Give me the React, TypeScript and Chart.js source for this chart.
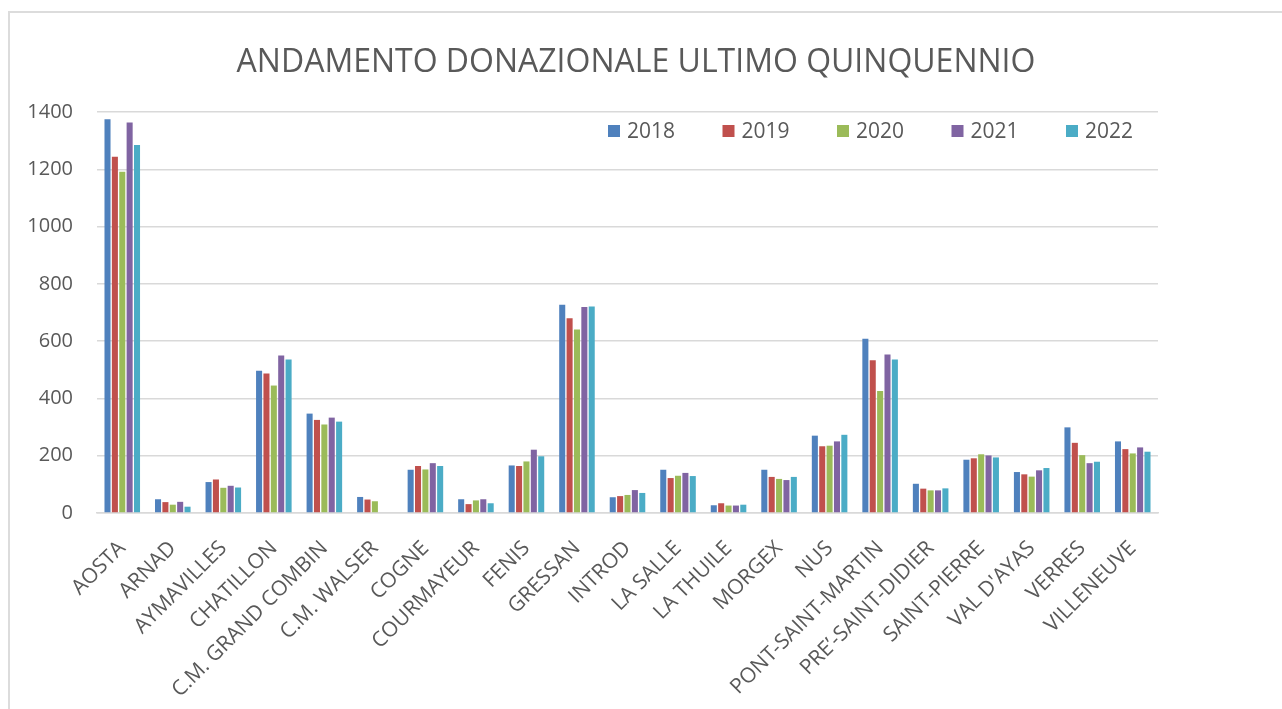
import React, { useEffect, useRef } from 'react';
import { Chart, registerables } from 'chart.js';

Chart.register(...registerables);

const TITLE = 'ANDAMENTO DONAZIONALE ULTIMO QUINQUENNIO';

const categories = [
  'AOSTA', 'ARNAD', 'AYMAVILLES', 'CHATILLON', 'C.M. GRAND COMBIN', 'C.M. WALSER',
  'COGNE', 'COURMAYEUR', 'FENIS', 'GRESSAN', 'INTROD', 'LA SALLE', 'LA THUILE',
  'MORGEX', 'NUS', 'PONT-SAINT-MARTIN', 'PRE’-SAINT-DIDIER', 'SAINT-PIERRE',
  "VAL D'AYAS", 'VERRES', 'VILLENEUVE',
];

const years = ['2018', '2019', '2020', '2021', '2022'];

const values2018 = [1375, 48, 108, 497, 347, 56, 151, 48, 166, 727, 55, 151, 27, 151, 270, 608, 102, 186, 143, 299, 250];
const values2019 = [1244, 38, 117, 487, 325, 47, 164, 31, 164, 680, 59, 122, 34, 126, 233, 533, 85, 191, 135, 245, 223];
const values2020 = [1191, 29, 88, 445, 309, 41, 152, 44, 180, 641, 63, 130, 26, 119, 235, 426, 79, 205, 127, 202, 208];
const values2021 = [1363, 39, 95, 550, 333, null, 174, 48, 221, 719, 80, 140, 26, 115, 250, 553, 79, 201, 149, 174, 229];
const values2022 = [1285, 22, 89, 536, 319, null, 164, 34, 198, 721, 70, 129, 29, 126, 273, 536, 86, 194, 157, 179, 214];

const yMin = 0;
const yMax = 1400;
const yStep = 200;

const seriesColors = ['#4F81BD', '#C0504D', '#9BBB59', '#8064A2', '#4BACC6'];
const TEXT_COLOR = '#595959';
const GRID_COLOR = '#d9d9d9';
const FONT = "'Open Sans', 'DejaVu Sans', sans-serif";

const titlePlugin = {
  id: 'excelTitle',
  afterDraw(chart: any) {
    const ctx = chart.ctx;
    ctx.save();
    ctx.font = `400 32px ${FONT}`;
    ctx.fillStyle = TEXT_COLOR;
    ctx.textAlign = 'center';
    ctx.textBaseline = 'middle';
    ctx.fillText(TITLE, 636, 63);
    ctx.restore();
  },
};

const legendPlugin = {
  id: 'insideLegend',
  afterDraw(chart: any) {
    const { ctx, chartArea } = chart;
    ctx.save();
    chart.data.datasets.forEach((ds: any, i: number) => {
      const x = chartArea.right - 550 + i * 114.5;
      const y = chartArea.top + 19;
      ctx.fillStyle = ds.backgroundColor;
      ctx.fillRect(x, y - 6, 12, 12);
      ctx.fillStyle = TEXT_COLOR;
      ctx.font = `21px ${FONT}`;
      ctx.textAlign = 'left';
      ctx.textBaseline = 'middle';
      ctx.fillText(ds.label, x + 19, y + 1);
    });
    ctx.restore();
  },
};

export default function App() {
  const canvasRef = useRef<HTMLCanvasElement | null>(null);

  useEffect(() => {
    if (!canvasRef.current) return;
    const seriesValues = [values2018, values2019, values2020, values2021, values2022];
    const chart = new Chart(canvasRef.current, {
      type: 'bar',
      data: {
        labels: categories,
        datasets: years.map((y, i) => ({
          label: y,
          data: seriesValues[i],
          backgroundColor: seriesColors[i],
          borderWidth: 0,
          categoryPercentage: 0.73,
          barPercentage: 0.82,
        })),
      },
      options: {
        responsive: false,
        animation: false,
        layout: { padding: { left: 0, right: 124, top: 112, bottom: 0 } },
        plugins: {
          legend: { display: false },
          title: { display: false },
          tooltip: { enabled: false },
        },
        scales: {
          x: {
            grid: { display: false },
            border: { color: GRID_COLOR, width: 1.5 },
            ticks: {
              color: TEXT_COLOR,
              font: { family: FONT, size: 21 },
              minRotation: 45,
              maxRotation: 45,
              autoSkip: false,
              padding: 15,
            },
            afterFit: (s: any) => {
              s.height = 196;
            },
          },
          y: {
            min: yMin,
            max: yMax,
            ticks: {
              stepSize: yStep,
              color: TEXT_COLOR,
              font: { family: FONT, size: 20 },
              padding: 24,
              callback: (v: any) => String(v),
            },
            grid: { color: GRID_COLOR, lineWidth: 1.5, drawTicks: false },
            border: { display: false },
            afterFit: (s: any) => {
              s.width = 97;
            },
          },
        },
      },
      plugins: [titlePlugin, legendPlugin],
    });
    return () => chart.destroy();
  }, []);

  return (
    <div style={{ position: 'fixed', left: 0, top: 0, width: 1282, height: 709, overflow: 'hidden', background: '#fff' }}>
      <div
        style={{
          position: 'absolute',
          left: 8,
          top: 11,
          width: 3000,
          height: 3000,
          borderLeft: '2px solid #dcdcdc',
          borderTop: '2px solid #dcdcdc',
        }}
      />
      <canvas ref={canvasRef} width={1282} height={709} style={{ position: 'absolute', left: 0, top: 0 }} />
    </div>
  );
}
